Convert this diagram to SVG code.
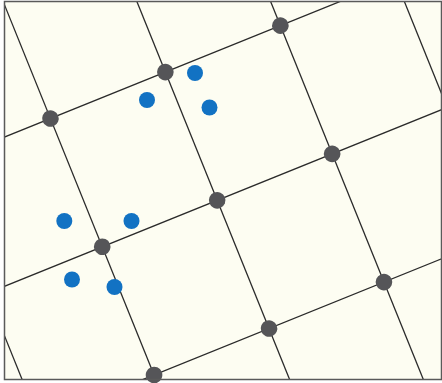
<svg xmlns="http://www.w3.org/2000/svg" width="442" height="383" viewBox="0 0 442 383">
<defs>
<style>
.grid line{stroke:#2a2a2a;stroke-width:1.3;fill:none}
.lat{fill:#555558}
.pt{fill:#1272c3}
</style>
<clipPath id="frame"><rect x="4.5" y="1.5" width="437" height="378"/></clipPath>
</defs>
<rect x="0" y="0" width="442" height="383" fill="#ffffff"/>
<rect x="4.5" y="1.5" width="437" height="378" fill="#fdfdf2"/>
<g id="connectors" class="grid" clip-path="url(#frame)">
<g transform="translate(217.2,200.3) rotate(-22)">
<line x1="-248" y1="-700" x2="-248" y2="700"/>
<line x1="-124" y1="-700" x2="-124" y2="700"/>
<line x1="0" y1="-700" x2="0" y2="700"/>
<line x1="124" y1="-700" x2="124" y2="700"/>
<line x1="248" y1="-700" x2="248" y2="700"/>
<line x1="-700" y1="-138.3" x2="700" y2="-138.3"/>
<line x1="-700" y1="0" x2="700" y2="0"/>
<line x1="-700" y1="138.3" x2="700" y2="138.3"/>
</g>
</g>
<g transform="translate(217.2,200.3) rotate(-22)">
<g id="n1"><circle class="lat" cx="-124" cy="-138.3" r="8.3"/></g>
<g id="n2"><circle class="lat" cx="0" cy="-138.3" r="8.3"/></g>
<g id="n3"><circle class="lat" cx="124" cy="-138.3" r="8.3"/></g>
<g id="n4"><circle class="lat" cx="-124" cy="0" r="8.3"/></g>
<g id="n5"><circle class="lat" cx="0" cy="0" r="8.3"/></g>
<g id="n6"><circle class="lat" cx="124" cy="0" r="8.3"/></g>
<g id="n7"><circle class="lat" cx="-124" cy="138.3" r="8.3"/></g>
<g id="n8"><circle class="lat" cx="0" cy="138.3" r="8.3"/></g>
<g id="n9"><circle class="lat" cx="124" cy="138.3" r="8.3"/></g>
</g>
<g id="p1"><circle class="pt" cx="195" cy="73" r="8"/></g>
<g id="p2"><circle class="pt" cx="147" cy="100" r="8"/></g>
<g id="p3"><circle class="pt" cx="209.5" cy="107.5" r="8"/></g>
<g id="p4"><circle class="pt" cx="64.3" cy="221" r="8"/></g>
<g id="p5"><circle class="pt" cx="131.5" cy="221" r="8"/></g>
<g id="p6"><circle class="pt" cx="72" cy="279.5" r="8"/></g>
<g id="p7"><circle class="pt" cx="114.5" cy="287" r="8"/></g>
<rect x="4.5" y="1.5" width="437" height="378" fill="none" stroke="#5a5a5a" stroke-width="1.5"/>
</svg>
